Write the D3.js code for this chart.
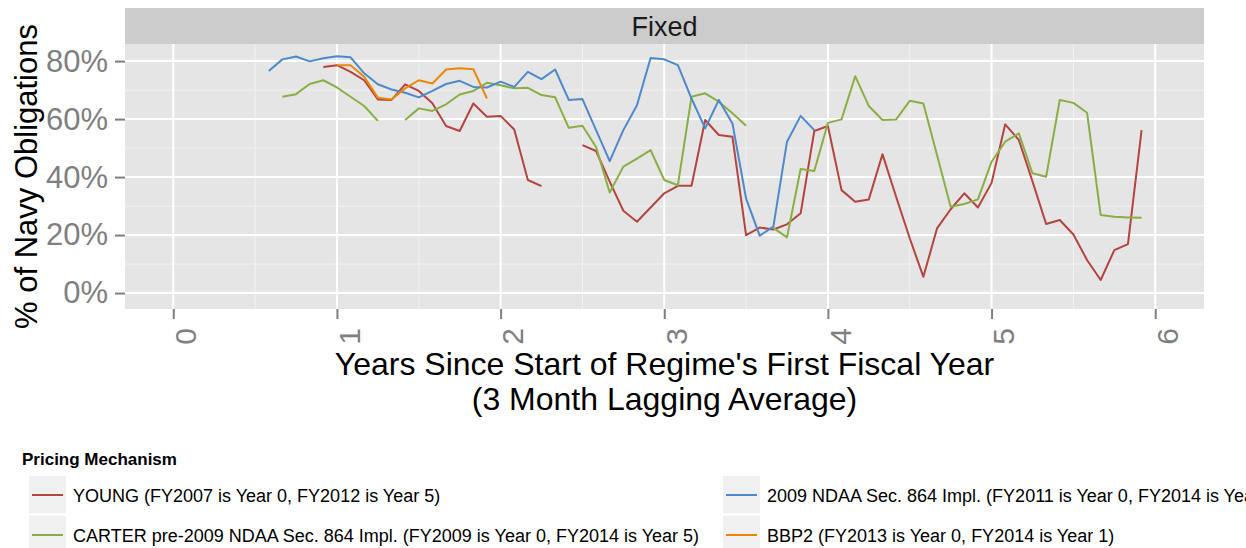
<!DOCTYPE html>
<html>
<head>
<meta charset="utf-8">
<script src="https://cdn.jsdelivr.net/npm/d3@7"></script>
<style>
  body { margin: 0; background: #fff; }
  svg { display: block; font-family: "Liberation Sans", Arial, sans-serif; }
</style>
</head>
<body>
<svg></svg>
<script>
// values, one per month (null = gap), in % of navy obligations
// each series starts at the given month after the start of the regime's first fiscal year
const youngStart = 11;
const youngValues = [78.0, 78.6, 76.3, 73.4, 66.8, 66.6, 72.0, 69.7, 65.5, 57.6, 55.9, 65.4,
  60.8, 61.1, 56.4, 39.0, 36.9, null, null, 51.0, 49.0, 38.4, 28.4, 24.6, 29.5, 34.4, 37.0,
  37.0, 59.7, 54.5, 53.9, 20.0, 22.6, 21.9, 23.7, 27.5, 55.9, 57.6, 35.5, 31.5, 32.3, 47.9,
  33.2, 18.9, 5.6, 22.3, 28.9, 34.4, 29.5, 38.0, 58.2, 52.8, 38.5, 23.8, 25.2, 20.2, 11.4,
  4.5, 14.8, 16.9, 56.2];

const carterStart = 8;
const carterValues = [67.7, 68.6, 72.1, 73.4, 70.9, 67.7, 64.5, 59.4, null, 59.7, 63.7, 62.8,
  65.1, 68.5, 69.7, 72.5, 71.7, 70.6, 70.8, 68.3, 67.5, 57.0, 57.7, 50.4, 34.7, 43.6, 46.4,
  49.3, 39.0, 37.2, 67.7, 68.9, 66.0, 62.0, 57.7, null, 22.5, 19.2, 42.8, 42.1, 58.7, 59.9,
  74.8, 64.5, 59.7, 59.9, 66.3, 65.4, 47.6, 29.8, 30.7, 32.3, 45.3, 52.2, 55.1, 41.3, 40.1,
  66.6, 65.6, 62.2, 26.9, 26.3, 26.1, 26.0];

const ndaaStart = 7;
const ndaaValues = [76.6, 80.6, 81.6, 79.9, 81.0, 81.7, 81.3, 75.8, 72.0, 70.2, 69.1, 67.5,
  69.7, 72.1, 73.2, 71.1, 70.9, 72.9, 71.1, 76.3, 73.8, 77.1, 66.6, 66.9, 56.2, 45.5, 56.2,
  64.8, 81.1, 80.6, 78.6, 67.1, 56.8, 66.6, 58.5, 32.6, 19.8, 22.9, 52.2, 61.1, 56.2];

const bbp2Start = 12;
const bbp2Values = [78.6, 78.6, 74.6, 67.4, 66.8, 70.6, 73.4, 72.3, 77.1, 77.5, 77.2, 67.1];

const seriesNames = [
  "YOUNG (FY2007 is Year 0, FY2012 is Year 5)",
  "CARTER pre-2009 NDAA Sec. 864 Impl. (FY2009 is Year 0, FY2014 is Year 5)",
  "2009 NDAA Sec. 864 Impl. (FY2011 is Year 0, FY2014 is Year 3)",
  "BBP2 (FY2013 is Year 0, FY2014 is Year 1)"
];
const seriesColors = ["#b4443f", "#8aae46", "#4e89cc", "#e88a08"];

const xTicks = [0, 1, 2, 3, 4, 5, 6];
const xMinor = [0.5, 1.5, 2.5, 3.5, 4.5, 5.5];
const yTicks = [0, 20, 40, 60, 80];
const yMinor = [10, 30, 50, 70];

// canvas and panel
const w = 1246;
const h = 548;
const pLeft = 125, pRight = 1204, pTop = 44, pBottom = 309;

const svg = d3.select("svg")
              .attr("width", w)
              .attr("height", h);

// turn month-indexed values into points (x in years)
function toPoints(start, values) {
  return values.map((v, i) => ({ x: (start + i) / 12, v: v }));
}
const series = [
  toPoints(youngStart, youngValues),
  toPoints(carterStart, carterValues),
  toPoints(ndaaStart, ndaaValues),
  toPoints(bbp2Start, bbp2Values)
];

const xScale = d3.scaleLinear()
                 .domain([-0.295, 6.298])
                 .range([pLeft, pRight]);

const yScale = d3.scaleLinear()
                 .domain([-5.5, 85.9])
                 .range([pBottom, pTop]);

// facet strip
svg.append("rect")
   .attr("x", pLeft).attr("y", 8)
   .attr("width", pRight - pLeft).attr("height", pTop - 8)
   .attr("fill", "#cccccc");
svg.append("text")
   .attr("x", (pLeft + pRight) / 2).attr("y", 36)
   .attr("text-anchor", "middle")
   .attr("font-size", 27)
   .attr("fill", "#1a1a1a")
   .text("Fixed");

// panel background
svg.append("rect")
   .attr("x", pLeft).attr("y", pTop)
   .attr("width", pRight - pLeft).attr("height", pBottom - pTop)
   .attr("fill", "#e5e5e5");

// grid lines
const grid = svg.append("g");
grid.selectAll(".xminor").data(xMinor).enter().append("line")
    .attr("x1", d => xScale(d)).attr("x2", d => xScale(d))
    .attr("y1", pTop).attr("y2", pBottom)
    .attr("stroke", "#f2f2f2").attr("stroke-width", 1);
grid.selectAll(".yminor").data(yMinor).enter().append("line")
    .attr("x1", pLeft).attr("x2", pRight)
    .attr("y1", d => yScale(d)).attr("y2", d => yScale(d))
    .attr("stroke", "#f2f2f2").attr("stroke-width", 1);
grid.selectAll(".xmajor").data(xTicks).enter().append("line")
    .attr("x1", d => xScale(d)).attr("x2", d => xScale(d))
    .attr("y1", pTop).attr("y2", pBottom)
    .attr("stroke", "#ffffff").attr("stroke-width", 2);
grid.selectAll(".ymajor").data(yTicks).enter().append("line")
    .attr("x1", pLeft).attr("x2", pRight)
    .attr("y1", d => yScale(d)).attr("y2", d => yScale(d))
    .attr("stroke", "#ffffff").attr("stroke-width", 2);

// lines, with gaps where a month has no value
const line = d3.line()
               .defined(d => d.v !== null)
               .x(d => xScale(d.x))
               .y(d => yScale(d.v));

svg.append("g")
   .selectAll("path")
   .data(series)
   .enter()
   .append("path")
   .attr("d", d => line(d))
   .attr("fill", "none")
   .attr("stroke", (d, i) => seriesColors[i])
   .attr("stroke-width", 2)
   .attr("stroke-linejoin", "round");

// y-axis
const yAxis = d3.axisLeft(yScale)
                .tickValues(yTicks)
                .tickFormat(d => d + "%")
                .tickSize(10)
                .tickPadding(7);
const yG = svg.append("g")
              .attr("transform", "translate(" + pLeft + ", 0)")
              .call(yAxis);
yG.select(".domain").remove();
yG.selectAll("line").attr("stroke", "#7f7f7f").attr("stroke-width", 2);
yG.selectAll("text")
  .attr("font-family", "Liberation Sans, Arial, sans-serif")
  .attr("font-size", 31)
  .attr("fill", "#7f7f7f");

// x-axis with labels turned on their side
const xAxis = d3.axisBottom(xScale)
                .tickValues(xTicks)
                .tickFormat(d3.format("d"))
                .tickSize(10);
const xG = svg.append("g")
              .attr("transform", "translate(0, " + pBottom + ")")
              .call(xAxis);
xG.select(".domain").remove();
xG.selectAll("line").attr("stroke", "#7f7f7f").attr("stroke-width", 2);
xG.selectAll("text")
  .attr("y", 0)
  .attr("dy", "0.74em")
  .attr("transform", "translate(0, 19) rotate(-90)")
  .attr("text-anchor", "end")
  .attr("font-family", "Liberation Sans, Arial, sans-serif")
  .attr("font-size", 30)
  .attr("fill", "#7f7f7f");

// axis titles
svg.append("text")
   .attr("transform", "translate(37, " + (pTop + pBottom) / 2 + ") rotate(-90)")
   .attr("text-anchor", "middle")
   .attr("font-size", 31)
   .text("% of Navy Obligations");

const xTitle = svg.append("text")
                  .attr("text-anchor", "middle")
                  .attr("font-size", 32);
xTitle.append("tspan")
      .attr("x", (pLeft + pRight) / 2).attr("y", 375)
      .text("Years Since Start of Regime's First Fiscal Year");
xTitle.append("tspan")
      .attr("x", (pLeft + pRight) / 2).attr("y", 410)
      .text("(3 Month Lagging Average)");

// legend
svg.append("text")
   .attr("x", 22).attr("y", 465)
   .attr("font-size", 17)
   .attr("font-weight", "bold")
   .text("Pricing Mechanism");

const legendPos = [[29, 476], [29, 516], [723, 476], [723, 516]];
const legend = svg.append("g")
                  .selectAll("g")
                  .data(seriesNames)
                  .enter()
                  .append("g")
                  .attr("transform", (d, i) => "translate(" + legendPos[i][0] + ", " + legendPos[i][1] + ")");
legend.append("rect")
      .attr("width", 37).attr("height", 37)
      .attr("fill", "#f0f0f0");
legend.append("line")
      .attr("x1", 3).attr("x2", 34)
      .attr("y1", 19).attr("y2", 19)
      .attr("stroke", (d, i) => seriesColors[i])
      .attr("stroke-width", 2);
legend.append("text")
      .attr("x", 44).attr("y", 26)
      .attr("font-size", 18)
      .text(d => d);
</script>
</body>
</html>
